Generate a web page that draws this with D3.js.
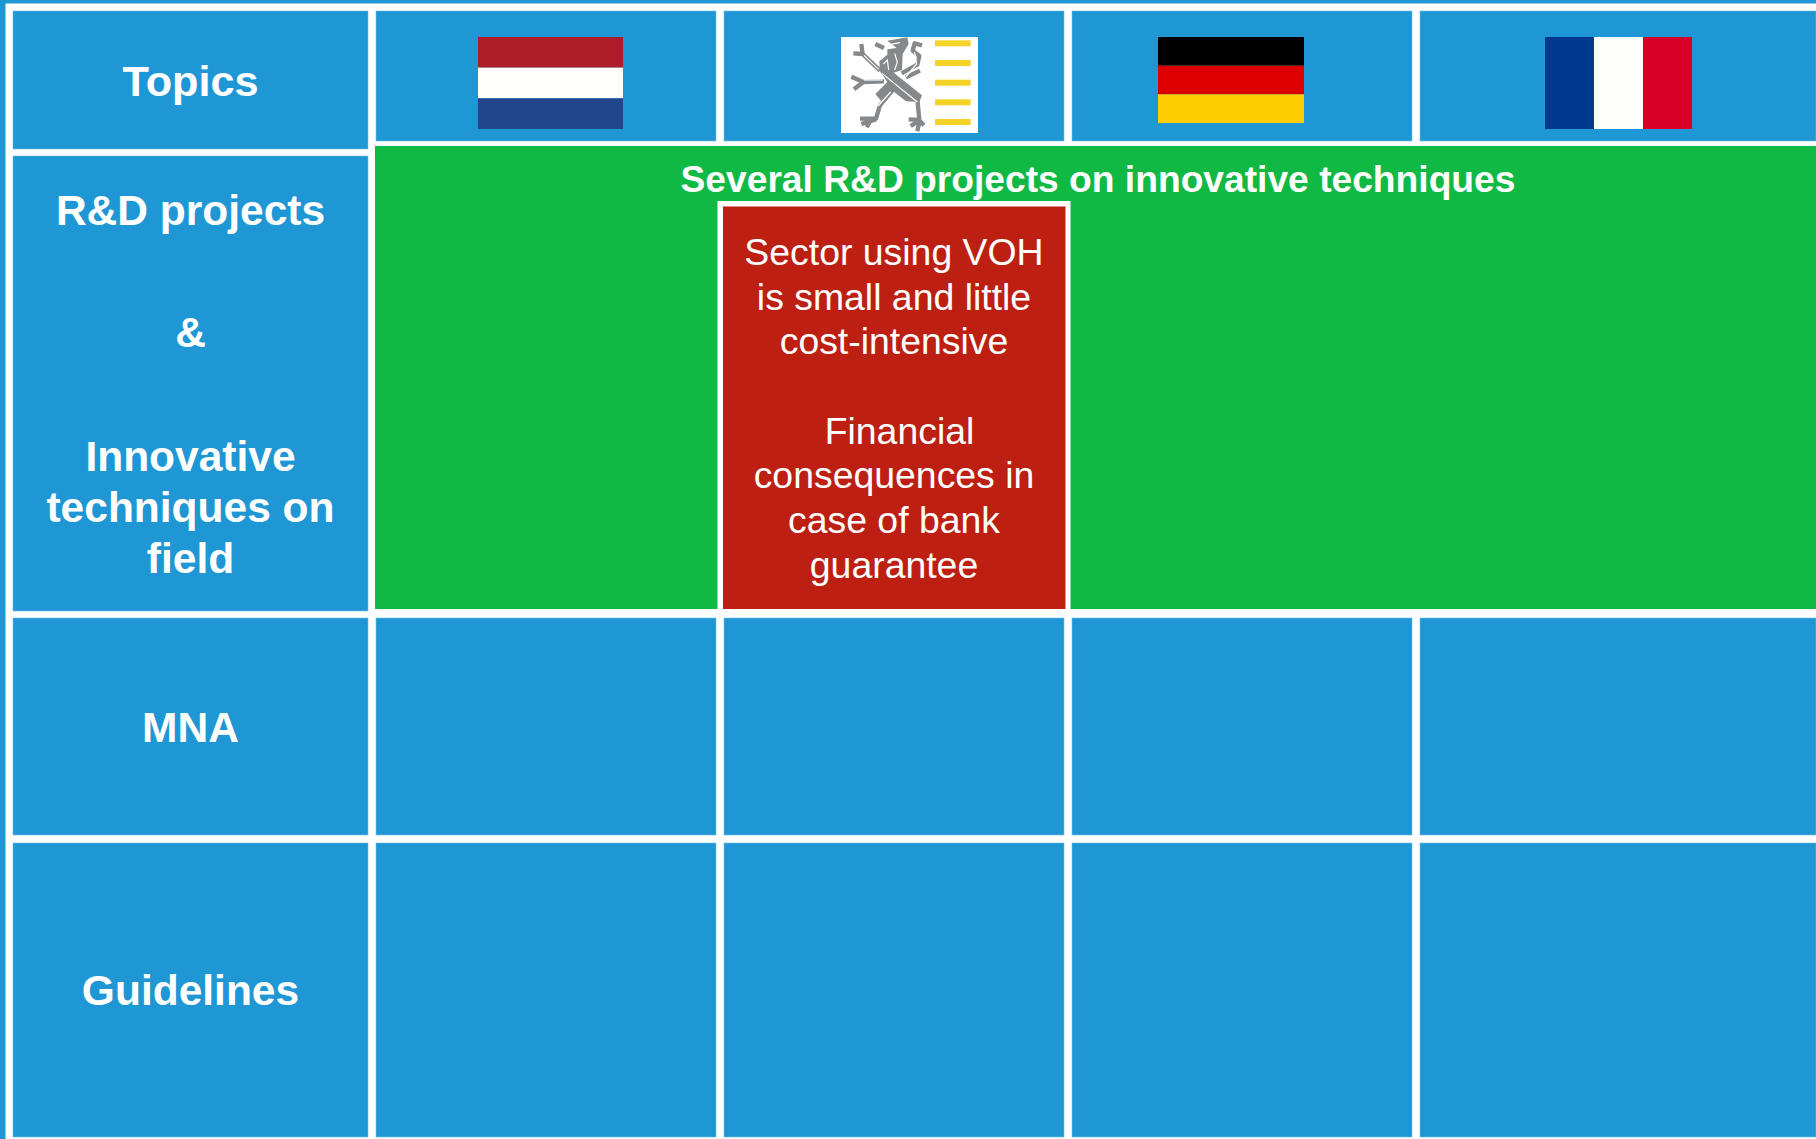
<!DOCTYPE html>
<html>
<head>
<meta charset="utf-8">
<script src="https://cdn.jsdelivr.net/npm/d3@7"></script>
<style>
html,body{margin:0;padding:0;background:#fff;overflow:hidden}
text{font-family:"Liberation Sans",Arial,sans-serif;fill:#fff;text-anchor:middle}
</style>
</head>
<body>
<svg id="chart" width="1816" height="1139"></svg>
<script>
// table content
const columns = ["Topics", "NL", "VL", "DE", "FR"];
const rows = ["header", "rd", "mna", "guidelines"];
const rowLabels = [
	{row: "header", lines: ["Topics"]},
	{row: "rd", lines: ["R&D projects", "", "&", "", "Innovative", "techniques on", "field"]},
	{row: "mna", lines: ["MNA"]},
	{row: "guidelines", lines: ["Guidelines"]}
];
const bannerTitle = "Several R&D projects on innovative techniques";
const redLines = ["Sector using VOH", "is small and little", "cost-intensive", "", "Financial", "consequences in", "case of bank", "guarantee"];
const flagStripesNL = ["#ae1c28", "#fffffb", "#21468b"];
const flagStripesDE = ["#000000", "#dd0000", "#ffce00"];
const flagStripesFR = ["#003a8f", "#fdfdfb", "#d80027"];
const coatBars = [0, 1, 2, 3, 4];

//=========================scales=====================================//
const svg = d3.select("#chart");
const xLeft = d3.scaleOrdinal().domain(columns).range([13, 376, 724, 1072, 1420]);
const xRight = d3.scaleOrdinal().domain(columns).range([368, 716, 1064, 1412, 1816]);
const yTop = d3.scaleOrdinal().domain(rows).range([11, 156, 618, 843]);
const yBottom = d3.scaleOrdinal().domain(rows).range([149, 611, 835, 1137]);
const blue = "#2097d5";

//=========================background=================================//
svg.append("rect").attr("width", 1816).attr("height", 3.5).attr("fill", blue);
svg.append("rect").attr("width", 5.5).attr("height", 1139).attr("fill", blue);

//=========================cells======================================//
const cells = [];
rows.forEach(r => columns.forEach(c => {
	// the header row of the flag columns is shorter than the first column
	if (r === "rd" && c !== "Topics") return;
	cells.push({r, c});
}));
svg.selectAll("rect.cell")
	.data(cells)
	.enter()
	.append("rect")
	.attr("class", "cell")
	.attr("x", d => xLeft(d.c))
	.attr("y", d => yTop(d.r))
	.attr("width", d => xRight(d.c) - xLeft(d.c))
	.attr("height", d => (d.r === "header" && d.c !== "Topics" ? 141 : yBottom(d.r)) - yTop(d.r))
	.attr("fill", blue)
	.attr("stroke", "#6fbce6")
	.attr("stroke-width", 0.6);

//=========================green banner + red cell====================//
svg.append("rect").attr("x", 375).attr("y", 146).attr("width", 1441).attr("height", 463).attr("fill", "#10b944");
svg.append("rect").attr("x", 717.5).attr("y", 201).attr("width", 353).attr("height", 408).attr("fill", "#fff");
svg.append("rect").attr("x", 723).attr("y", 206.5).attr("width", 342.5).attr("height", 402.5).attr("fill", "#bd2012");

svg.append("text")
	.attr("x", 1098).attr("y", 192)
	.attr("font-size", 37.2).attr("font-weight", "bold")
	.text(bannerTitle);

//=========================row labels=================================//
const labelY = {header: [96], rd: [225, 0, 347, 0, 471, 522, 573], mna: [742], guidelines: [1005]};
rowLabels.forEach(l => {
	svg.selectAll(null)
		.data(l.lines.map((t, i) => ({t, y: labelY[l.row][i]})).filter(d => d.t))
		.enter()
		.append("text")
		.attr("x", 190.5)
		.attr("y", d => d.y)
		.attr("font-size", d => d.t === "Topics" ? 43.2 : 42.5)
		.attr("font-weight", "bold")
		.text(d => d.t);
});

const redY = [265, 310, 354, 0, 444, 488, 533, 578];
svg.selectAll("text.red")
	.data(redLines.map((t, i) => ({t, i})).filter(d => d.t))
	.enter()
	.append("text")
	.attr("class", "red")
	.attr("x", d => d.t === "Financial" ? 899.5 : 894)
	.attr("y", d => redY[d.i])
	.attr("font-size", 37.4)
	.text(d => d.t);

//=========================flags======================================//
function stripes(colors, x0, y0, w, h, vertical) {
	const band = d3.scaleBand().domain(d3.range(colors.length)).range(vertical ? [x0, x0 + w] : [y0, y0 + h]);
	svg.selectAll(null)
		.data(colors)
		.enter()
		.append("rect")
		.attr("x", (d, i) => vertical ? band(i) : x0)
		.attr("y", (d, i) => vertical ? y0 : band(i))
		.attr("width", vertical ? band.bandwidth() : w)
		.attr("height", vertical ? h : band.bandwidth())
		.attr("fill", d => d);
}
stripes(flagStripesNL, 478, 37, 145, 92, false);
stripes(flagStripesDE, 1158, 37, 146, 86, false);
stripes(flagStripesFR, 1545, 37, 147, 92, true);

//=========================flemish coat of arms=======================//
svg.append("rect").attr("x", 841).attr("y", 37).attr("width", 137).attr("height", 96).attr("fill", "#fff");
svg.append("defs").append("filter").attr("id", "soft")
	.append("feGaussianBlur").attr("stdDeviation", 1.6);
const coat = svg.append("g")
	.attr("transform", "translate(800,20) scale(0.3333)")
	.attr("filter", "url(#soft)");
coat.selectAll("rect")
	.data(coatBars)
	.enter()
	.append("rect")
	.attr("x", 405)
	.attr("y", d => 61 + d * 59)
	.attr("width", 107)
	.attr("height", 18)
	.attr("fill", "#f5d327");
// limbs, tail and claws are thick grey strokes
const lionLimbs = [
	"M240,152 L188,102 M188,102 L160,100 M188,102 L184,72",
	"M252,184 L190,186 M190,186 L154,170 M190,186 L162,208",
	"M280,208 L240,256 L228,296 L180,296 M228,298 L184,312 M210,304 L200,322",
	"M352,235 L358,300 L326,298 M358,302 L332,318 M358,306 L352,334 M358,302 L372,316",
	"M305,160 L352,134 L358,108 L338,92 L344,70 L366,76",
	"M318,172 L360,152",
	"M226,72 L252,84"
];
coat.selectAll("path.limb")
	.data(lionLimbs)
	.enter()
	.append("path")
	.attr("class", "limb")
	.attr("d", d => d)
	.attr("fill", "none")
	.attr("stroke", "#86898b")
	.attr("stroke-width", 13)
	.attr("stroke-linejoin", "round");
// head and trunk
coat.append("path")
	.attr("d", "M262,62 L322,52 L326,72 L308,102 L306,150 L276,160 L240,152 L238,124 L262,104 L262,88 L290,84 Z")
	.attr("fill", "#86898b");
coat.append("path")
	.attr("d", "M236,148 L268,148 L366,226 L358,246 L318,244 L278,212 L248,248 L226,222 L262,186 Z")
	.attr("fill", "#86898b");
// white inner lines of the drawing
const lionInner = [
	"M250,132 L262,120 L266,150",
	"M284,100 L292,126 L284,150",
	"M268,74 L300,68",
	"M236,148 L192,106",
	"M248,180 L192,180",
	"M246,160 L352,246",
	"M272,216 L234,258",
	"M318,170 L350,132 L344,96"
];
coat.selectAll("path.inner")
	.data(lionInner)
	.enter()
	.append("path")
	.attr("class", "inner")
	.attr("d", d => d)
	.attr("fill", "none")
	.attr("stroke", "#fff")
	.attr("stroke-width", 3.5);
</script>
</body>
</html>
